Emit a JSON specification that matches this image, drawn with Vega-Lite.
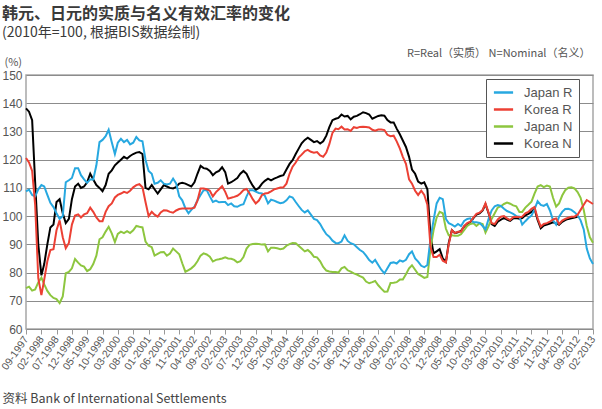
{
"$schema": "https://vega.github.io/schema/vega-lite/v6.json",
"width": 567, "height": 254,
"autosize": {"type": "none"},
"padding": {"left": 26, "top": 75, "right": 9, "bottom": 80},
"background": "white",
"config": {"view": {"stroke": "#a6a6a6", "strokeWidth": 1.5}, "font": "Noto Sans CJK SC"},
"title": {"text": "韩元、日元的实质与名义有效汇率的变化", "subtitle": "(2010年=100, 根据BIS数据绘制)", "anchor": "start", "frame": "group", "dx": -24, "offset": 7, "fontSize": 16, "fontWeight": "bold", "color": "#3a3a3a", "font": "Noto Sans CJK SC", "subtitleFont": "Noto Sans CJK SC", "subtitleFontSize": 14, "subtitleColor": "#3a3a3a", "subtitlePadding": 4},
"layer": [
{
"data": {"values": [
{"date":"1997-09","Japan R":108.8,"Korea R":120.6,"Japan N":74.5,"Korea N":138.2},
{"date":"1997-10","Japan R":109.4,"Korea R":119,"Japan N":75,"Korea N":137},
{"date":"1997-11","Japan R":107.5,"Korea R":116,"Japan N":73.6,"Korea N":134},
{"date":"1997-12","Japan R":107,"Korea R":104,"Japan N":74,"Korea N":112},
{"date":"1998-01","Japan R":109.5,"Korea R":78,"Japan N":76.5,"Korea N":90},
{"date":"1998-02","Japan R":111,"Korea R":72,"Japan N":78.2,"Korea N":79},
{"date":"1998-03","Japan R":110.5,"Korea R":77.5,"Japan N":75.8,"Korea N":83},
{"date":"1998-04","Japan R":107.5,"Korea R":84,"Japan N":73.5,"Korea N":90},
{"date":"1998-05","Japan R":104.7,"Korea R":88,"Japan N":72,"Korea N":96},
{"date":"1998-06","Japan R":103.2,"Korea R":88.3,"Japan N":71,"Korea N":97},
{"date":"1998-07","Japan R":101,"Korea R":95,"Japan N":70.6,"Korea N":105},
{"date":"1998-08","Japan R":99,"Korea R":98.5,"Japan N":69.2,"Korea N":106},
{"date":"1998-09","Japan R":100,"Korea R":92.5,"Japan N":71.5,"Korea N":101},
{"date":"1998-10","Japan R":112,"Korea R":88.6,"Japan N":79.8,"Korea N":97.5},
{"date":"1998-11","Japan R":112.7,"Korea R":90.5,"Japan N":80.2,"Korea N":99},
{"date":"1998-12","Japan R":113.5,"Korea R":97,"Japan N":81.5,"Korea N":106},
{"date":"1999-01","Japan R":117,"Korea R":100.2,"Japan N":84.8,"Korea N":110.5},
{"date":"1999-02","Japan R":117,"Korea R":100.6,"Japan N":83.5,"Korea N":111.5},
{"date":"1999-03","Japan R":114.5,"Korea R":99.5,"Japan N":82.5,"Korea N":110},
{"date":"1999-04","Japan R":113,"Korea R":100.6,"Japan N":82.1,"Korea N":110.5},
{"date":"1999-05","Japan R":111.8,"Korea R":101,"Japan N":80.5,"Korea N":112},
{"date":"1999-06","Japan R":113,"Korea R":103,"Japan N":81.2,"Korea N":115},
{"date":"1999-07","Japan R":113,"Korea R":101.5,"Japan N":83,"Korea N":113},
{"date":"1999-08","Japan R":118,"Korea R":99.5,"Japan N":86,"Korea N":111},
{"date":"1999-09","Japan R":126.2,"Korea R":98.2,"Japan N":91.8,"Korea N":110},
{"date":"1999-10","Japan R":127,"Korea R":98.2,"Japan N":92.5,"Korea N":108.8},
{"date":"1999-11","Japan R":128.3,"Korea R":101.5,"Japan N":94.5,"Korea N":111},
{"date":"1999-12","Japan R":130.6,"Korea R":103.5,"Japan N":96.2,"Korea N":115},
{"date":"2000-01","Japan R":126.2,"Korea R":104.5,"Japan N":93.9,"Korea N":116.2},
{"date":"2000-02","Japan R":122,"Korea R":106.6,"Japan N":90.8,"Korea N":118},
{"date":"2000-03","Japan R":126,"Korea R":107.5,"Japan N":93.7,"Korea N":119},
{"date":"2000-04","Japan R":127.4,"Korea R":108,"Japan N":94.5,"Korea N":120},
{"date":"2000-05","Japan R":126.2,"Korea R":108.6,"Japan N":94,"Korea N":121},
{"date":"2000-06","Japan R":127,"Korea R":108.2,"Japan N":94.7,"Korea N":120.4},
{"date":"2000-07","Japan R":125.4,"Korea R":109,"Japan N":94,"Korea N":121.3},
{"date":"2000-08","Japan R":126,"Korea R":110.2,"Japan N":95,"Korea N":122},
{"date":"2000-09","Japan R":128,"Korea R":111,"Japan N":96.5,"Korea N":122.5},
{"date":"2000-10","Japan R":126.8,"Korea R":111.3,"Japan N":96.2,"Korea N":122.7},
{"date":"2000-11","Japan R":126.5,"Korea R":110.2,"Japan N":96,"Korea N":122},
{"date":"2000-12","Japan R":120,"Korea R":105,"Japan N":91,"Korea N":110},
{"date":"2001-01","Japan R":116,"Korea R":100,"Japan N":89.5,"Korea N":109.5},
{"date":"2001-02","Japan R":115,"Korea R":101.5,"Japan N":89,"Korea N":111},
{"date":"2001-03","Japan R":111.5,"Korea R":100.5,"Japan N":86,"Korea N":109.5},
{"date":"2001-04","Japan R":111.8,"Korea R":99.8,"Japan N":86.6,"Korea N":108},
{"date":"2001-05","Japan R":112.7,"Korea R":101.3,"Japan N":87.2,"Korea N":109.5},
{"date":"2001-06","Japan R":111.5,"Korea R":102.1,"Japan N":87.3,"Korea N":111},
{"date":"2001-07","Japan R":111.2,"Korea R":102,"Japan N":86,"Korea N":110.5},
{"date":"2001-08","Japan R":111.5,"Korea R":101.5,"Japan N":86.7,"Korea N":110},
{"date":"2001-09","Japan R":113.3,"Korea R":101.2,"Japan N":88.5,"Korea N":109.8},
{"date":"2001-10","Japan R":111.6,"Korea R":102,"Japan N":87.5,"Korea N":110.3},
{"date":"2001-11","Japan R":107,"Korea R":102.5,"Japan N":86.5,"Korea N":111.5},
{"date":"2001-12","Japan R":105.6,"Korea R":102.7,"Japan N":83.3,"Korea N":111.8},
{"date":"2002-01","Japan R":102.8,"Korea R":102.7,"Japan N":80.3,"Korea N":111.5},
{"date":"2002-02","Japan R":101,"Korea R":102.7,"Japan N":80.9,"Korea N":111},
{"date":"2002-03","Japan R":102.2,"Korea R":102.7,"Japan N":81.5,"Korea N":110.5},
{"date":"2002-04","Japan R":103.3,"Korea R":103,"Japan N":82.5,"Korea N":112},
{"date":"2002-05","Japan R":105.6,"Korea R":105.5,"Japan N":84,"Korea N":115},
{"date":"2002-06","Japan R":107.5,"Korea R":109.8,"Japan N":86,"Korea N":117.8},
{"date":"2002-07","Japan R":109.2,"Korea R":109.8,"Japan N":86.8,"Korea N":117},
{"date":"2002-08","Japan R":109.2,"Korea R":109.5,"Japan N":86.4,"Korea N":116.8},
{"date":"2002-09","Japan R":107,"Korea R":109,"Japan N":85.6,"Korea N":116},
{"date":"2002-10","Japan R":105,"Korea R":107,"Japan N":83.9,"Korea N":114.5},
{"date":"2002-11","Japan R":105.5,"Korea R":108.5,"Japan N":84.5,"Korea N":115.5},
{"date":"2002-12","Japan R":104.9,"Korea R":109.5,"Japan N":84.7,"Korea N":116},
{"date":"2003-01","Japan R":105,"Korea R":110.6,"Japan N":85,"Korea N":117.3},
{"date":"2003-02","Japan R":105,"Korea R":108.6,"Japan N":85.4,"Korea N":115.6},
{"date":"2003-03","Japan R":103.9,"Korea R":106.2,"Japan N":85,"Korea N":111.5},
{"date":"2003-04","Japan R":104.5,"Korea R":106.5,"Japan N":84.9,"Korea N":112},
{"date":"2003-05","Japan R":103.5,"Korea R":106.8,"Japan N":84.5,"Korea N":112.7},
{"date":"2003-06","Japan R":103.3,"Korea R":107.2,"Japan N":83.6,"Korea N":113.5},
{"date":"2003-07","Japan R":103.9,"Korea R":108,"Japan N":84,"Korea N":115},
{"date":"2003-08","Japan R":104.2,"Korea R":109.2,"Japan N":85.5,"Korea N":116},
{"date":"2003-09","Japan R":107,"Korea R":109.6,"Japan N":88.5,"Korea N":115},
{"date":"2003-10","Japan R":109.2,"Korea R":108,"Japan N":89.8,"Korea N":112.7},
{"date":"2003-11","Japan R":109.2,"Korea R":106,"Japan N":90.1,"Korea N":110.8},
{"date":"2003-12","Japan R":108.7,"Korea R":104.5,"Japan N":90.2,"Korea N":109.3},
{"date":"2004-01","Japan R":108.2,"Korea R":105.5,"Japan N":90.1,"Korea N":110},
{"date":"2004-02","Japan R":108,"Korea R":107.5,"Japan N":89.9,"Korea N":111.5},
{"date":"2004-03","Japan R":107.2,"Korea R":108,"Japan N":90,"Korea N":112.5},
{"date":"2004-04","Japan R":104.5,"Korea R":108.2,"Japan N":87.5,"Korea N":113.3},
{"date":"2004-05","Japan R":105.8,"Korea R":108.8,"Japan N":88.8,"Korea N":112.7},
{"date":"2004-06","Japan R":105.5,"Korea R":109.5,"Japan N":88.8,"Korea N":113.3},
{"date":"2004-07","Japan R":105,"Korea R":109.8,"Japan N":88.6,"Korea N":113.7},
{"date":"2004-08","Japan R":104.6,"Korea R":110.1,"Japan N":88.3,"Korea N":114.2},
{"date":"2004-09","Japan R":104.8,"Korea R":110.2,"Japan N":88.5,"Korea N":114.5},
{"date":"2004-10","Japan R":105.6,"Korea R":111.5,"Japan N":89.5,"Korea N":116.5},
{"date":"2004-11","Japan R":107,"Korea R":115,"Japan N":90.1,"Korea N":118.5},
{"date":"2004-12","Japan R":106.6,"Korea R":117.5,"Japan N":90.5,"Korea N":119.8},
{"date":"2005-01","Japan R":105,"Korea R":119,"Japan N":90.4,"Korea N":122},
{"date":"2005-02","Japan R":103.5,"Korea R":120.8,"Japan N":89.4,"Korea N":124},
{"date":"2005-03","Japan R":102.2,"Korea R":121.8,"Japan N":88.5,"Korea N":125.8},
{"date":"2005-04","Japan R":101.3,"Korea R":123,"Japan N":87.5,"Korea N":127},
{"date":"2005-05","Japan R":102,"Korea R":123.5,"Japan N":88,"Korea N":127.8},
{"date":"2005-06","Japan R":100.5,"Korea R":122.8,"Japan N":87,"Korea N":127},
{"date":"2005-07","Japan R":99,"Korea R":122.5,"Japan N":85.6,"Korea N":126.2},
{"date":"2005-08","Japan R":98.6,"Korea R":122.7,"Japan N":85.4,"Korea N":126.6},
{"date":"2005-09","Japan R":97.2,"Korea R":121.5,"Japan N":84,"Korea N":125.7},
{"date":"2005-10","Japan R":95.3,"Korea R":121,"Japan N":82,"Korea N":126.5},
{"date":"2005-11","Japan R":93.6,"Korea R":122.5,"Japan N":80.7,"Korea N":128.5},
{"date":"2005-12","Japan R":92.7,"Korea R":125.5,"Japan N":80.4,"Korea N":131.5},
{"date":"2006-01","Japan R":91.3,"Korea R":129.5,"Japan N":80.2,"Korea N":134},
{"date":"2006-02","Japan R":90.5,"Korea R":131,"Japan N":80.2,"Korea N":134.5},
{"date":"2006-03","Japan R":90.4,"Korea R":130.8,"Japan N":80,"Korea N":134.8},
{"date":"2006-04","Japan R":91,"Korea R":131.7,"Japan N":81.5,"Korea N":136},
{"date":"2006-05","Japan R":93.2,"Korea R":130.7,"Japan N":82,"Korea N":135.3},
{"date":"2006-06","Japan R":91.2,"Korea R":130.8,"Japan N":80.8,"Korea N":135.5},
{"date":"2006-07","Japan R":90.4,"Korea R":130.2,"Japan N":80.3,"Korea N":134.3},
{"date":"2006-08","Japan R":90,"Korea R":131.5,"Japan N":79.7,"Korea N":135.2},
{"date":"2006-09","Japan R":89,"Korea R":131.2,"Japan N":79.3,"Korea N":135.5},
{"date":"2006-10","Japan R":88,"Korea R":131.6,"Japan N":78.7,"Korea N":136.1},
{"date":"2006-11","Japan R":87.3,"Korea R":131.7,"Japan N":78.2,"Korea N":136.8},
{"date":"2006-12","Japan R":86,"Korea R":131.6,"Japan N":76.8,"Korea N":136.5},
{"date":"2007-01","Japan R":84.4,"Korea R":131.4,"Japan N":76.2,"Korea N":136},
{"date":"2007-02","Japan R":83.5,"Korea R":130.6,"Japan N":76.6,"Korea N":134.5},
{"date":"2007-03","Japan R":84.5,"Korea R":130.3,"Japan N":77,"Korea N":135},
{"date":"2007-04","Japan R":82.7,"Korea R":130.7,"Japan N":75.5,"Korea N":135.5},
{"date":"2007-05","Japan R":81,"Korea R":130.7,"Japan N":74.3,"Korea N":135.7},
{"date":"2007-06","Japan R":79.7,"Korea R":130.5,"Japan N":73.2,"Korea N":135.6},
{"date":"2007-07","Japan R":81.5,"Korea R":128.8,"Japan N":73.3,"Korea N":134},
{"date":"2007-08","Japan R":83.4,"Korea R":128.3,"Japan N":76.3,"Korea N":133.2},
{"date":"2007-09","Japan R":83.6,"Korea R":128.5,"Japan N":76.4,"Korea N":133.2},
{"date":"2007-10","Japan R":83.2,"Korea R":126.5,"Japan N":76.6,"Korea N":131},
{"date":"2007-11","Japan R":84.3,"Korea R":124,"Japan N":77.5,"Korea N":129},
{"date":"2007-12","Japan R":83.9,"Korea R":121,"Japan N":77.5,"Korea N":126.8},
{"date":"2008-01","Japan R":84.5,"Korea R":118.5,"Japan N":79.4,"Korea N":124.5},
{"date":"2008-02","Japan R":86.5,"Korea R":113,"Japan N":81.5,"Korea N":121},
{"date":"2008-03","Japan R":87.5,"Korea R":111.5,"Japan N":82.6,"Korea N":116.5},
{"date":"2008-04","Japan R":85,"Korea R":109,"Japan N":81,"Korea N":115},
{"date":"2008-05","Japan R":83.9,"Korea R":107.5,"Japan N":79.5,"Korea N":112.2},
{"date":"2008-06","Japan R":82.4,"Korea R":109,"Japan N":78.8,"Korea N":111.5},
{"date":"2008-07","Japan R":81.9,"Korea R":107.5,"Japan N":78.1,"Korea N":112},
{"date":"2008-08","Japan R":82.7,"Korea R":104,"Japan N":78.4,"Korea N":109.5},
{"date":"2008-09","Japan R":92,"Korea R":89,"Japan N":88.5,"Korea N":93},
{"date":"2008-10","Japan R":98.5,"Korea R":85.5,"Japan N":95,"Korea N":86.8},
{"date":"2008-11","Japan R":104.5,"Korea R":85.5,"Japan N":99.5,"Korea N":87.5},
{"date":"2008-12","Japan R":106.5,"Korea R":86.3,"Japan N":101.5,"Korea N":88.3},
{"date":"2009-01","Japan R":106,"Korea R":84.2,"Japan N":101,"Korea N":85},
{"date":"2009-02","Japan R":99,"Korea R":83.6,"Japan N":95.5,"Korea N":83.8},
{"date":"2009-03","Japan R":97.5,"Korea R":90,"Japan N":93.2,"Korea N":90.5},
{"date":"2009-04","Japan R":97,"Korea R":95,"Japan N":93.2,"Korea N":95},
{"date":"2009-05","Japan R":96.3,"Korea R":94,"Japan N":93,"Korea N":94},
{"date":"2009-06","Japan R":97.2,"Korea R":94.5,"Japan N":93,"Korea N":94.3},
{"date":"2009-07","Japan R":96.5,"Korea R":94.5,"Japan N":93.6,"Korea N":94.8},
{"date":"2009-08","Japan R":98.3,"Korea R":96.5,"Japan N":95,"Korea N":96.3},
{"date":"2009-09","Japan R":99,"Korea R":97.5,"Japan N":96.5,"Korea N":97.3},
{"date":"2009-10","Japan R":99.2,"Korea R":98,"Japan N":97.2,"Korea N":97.8},
{"date":"2009-11","Japan R":97.8,"Korea R":99.5,"Japan N":97.5,"Korea N":99.3},
{"date":"2009-12","Japan R":97.8,"Korea R":100.8,"Japan N":96.5,"Korea N":100.5},
{"date":"2010-01","Japan R":97.6,"Korea R":101.2,"Japan N":97.5,"Korea N":101},
{"date":"2010-02","Japan R":96.5,"Korea R":102.2,"Japan N":97.2,"Korea N":102},
{"date":"2010-03","Japan R":95.3,"Korea R":104.5,"Japan N":94.2,"Korea N":104.2},
{"date":"2010-04","Japan R":99,"Korea R":101.2,"Japan N":96.5,"Korea N":101},
{"date":"2010-05","Japan R":102,"Korea R":97.5,"Japan N":99,"Korea N":97.2},
{"date":"2010-06","Japan R":103.5,"Korea R":97.2,"Japan N":101,"Korea N":96.5},
{"date":"2010-07","Japan R":103.9,"Korea R":98.8,"Japan N":103,"Korea N":98},
{"date":"2010-08","Japan R":103.6,"Korea R":99.8,"Japan N":103.5,"Korea N":98.7},
{"date":"2010-09","Japan R":102.6,"Korea R":100,"Japan N":104.3,"Korea N":99.4},
{"date":"2010-10","Japan R":101.8,"Korea R":99.2,"Japan N":104.8,"Korea N":98.8},
{"date":"2010-11","Japan R":101.3,"Korea R":98.6,"Japan N":104.4,"Korea N":98.3},
{"date":"2010-12","Japan R":100.8,"Korea R":99.6,"Japan N":103.8,"Korea N":99.2},
{"date":"2011-01","Japan R":100,"Korea R":99.8,"Japan N":103.5,"Korea N":99.3},
{"date":"2011-02","Japan R":99.8,"Korea R":99.6,"Japan N":101.5,"Korea N":99.1},
{"date":"2011-03","Japan R":97,"Korea R":99.8,"Japan N":101.5,"Korea N":99.3},
{"date":"2011-04","Japan R":98.2,"Korea R":101,"Japan N":103,"Korea N":100.3},
{"date":"2011-05","Japan R":99.3,"Korea R":101.5,"Japan N":104,"Korea N":100.8},
{"date":"2011-06","Japan R":100.2,"Korea R":102.6,"Japan N":105.1,"Korea N":101.5},
{"date":"2011-07","Japan R":102.4,"Korea R":103.2,"Japan N":108,"Korea N":102.6},
{"date":"2011-08","Japan R":105.3,"Korea R":99.2,"Japan N":110.5,"Korea N":98.6},
{"date":"2011-09","Japan R":104,"Korea R":96.3,"Japan N":111,"Korea N":95.7},
{"date":"2011-10","Japan R":103.6,"Korea R":97.2,"Japan N":110.3,"Korea N":96.7},
{"date":"2011-11","Japan R":104.3,"Korea R":97.5,"Japan N":110.8,"Korea N":97},
{"date":"2011-12","Japan R":102,"Korea R":98,"Japan N":110.5,"Korea N":97.4},
{"date":"2012-01","Japan R":98.5,"Korea R":98.8,"Japan N":106.5,"Korea N":97.8},
{"date":"2012-02","Japan R":97,"Korea R":99.2,"Japan N":103.4,"Korea N":97.5},
{"date":"2012-03","Japan R":99.8,"Korea R":97.2,"Japan N":104.5,"Korea N":96.9},
{"date":"2012-04","Japan R":101.5,"Korea R":98.4,"Japan N":107.3,"Korea N":98},
{"date":"2012-05","Japan R":102.5,"Korea R":99,"Japan N":109.2,"Korea N":98.6},
{"date":"2012-06","Japan R":102.6,"Korea R":99.4,"Japan N":110.1,"Korea N":99},
{"date":"2012-07","Japan R":102.2,"Korea R":99.8,"Japan N":110.2,"Korea N":99.2},
{"date":"2012-08","Japan R":101.4,"Korea R":99.8,"Japan N":109.8,"Korea N":99.5},
{"date":"2012-09","Japan R":100.3,"Korea R":100.5,"Japan N":108.5,"Korea N":99.8},
{"date":"2012-10","Japan R":98.5,"Korea R":102.2,"Japan N":106.5,"Korea N":null},
{"date":"2012-11","Japan R":95.3,"Korea R":104,"Japan N":102.2,"Korea N":null},
{"date":"2012-12","Japan R":88.5,"Korea R":105.7,"Japan N":96.5,"Korea N":null},
{"date":"2013-01","Japan R":85,"Korea R":105,"Japan N":92.5,"Korea N":null},
{"date":"2013-02","Japan R":83,"Korea R":104.3,"Japan N":90.6,"Korea N":null}
]},
"transform": [{"fold": ["Korea N", "Japan N", "Japan R", "Korea R"], "as": ["series", "value"]}],
"mark": {"type": "line", "strokeWidth": 2},
"encoding": {
"x": {"field": "date", "type": "temporal",
"scale": {"type": "utc", "nice": false, "domain": [{"year": 1997, "month": 9, "utc": true}, {"year": 2013, "month": 2, "utc": true}]},
"axis": {"values": [{"year":1997,"month":9,"utc":true},{"year":1998,"month":2,"utc":true},{"year":1998,"month":7,"utc":true},{"year":1998,"month":12,"utc":true},{"year":1999,"month":5,"utc":true},{"year":1999,"month":10,"utc":true},{"year":2000,"month":3,"utc":true},{"year":2000,"month":8,"utc":true},{"year":2001,"month":1,"utc":true},{"year":2001,"month":6,"utc":true},{"year":2001,"month":11,"utc":true},{"year":2002,"month":4,"utc":true},{"year":2002,"month":9,"utc":true},{"year":2003,"month":2,"utc":true},{"year":2003,"month":7,"utc":true},{"year":2003,"month":12,"utc":true},{"year":2004,"month":5,"utc":true},{"year":2004,"month":10,"utc":true},{"year":2005,"month":3,"utc":true},{"year":2005,"month":8,"utc":true},{"year":2006,"month":1,"utc":true},{"year":2006,"month":6,"utc":true},{"year":2006,"month":11,"utc":true},{"year":2007,"month":4,"utc":true},{"year":2007,"month":9,"utc":true},{"year":2008,"month":2,"utc":true},{"year":2008,"month":7,"utc":true},{"year":2008,"month":12,"utc":true},{"year":2009,"month":5,"utc":true},{"year":2009,"month":10,"utc":true},{"year":2010,"month":3,"utc":true},{"year":2010,"month":8,"utc":true},{"year":2011,"month":1,"utc":true},{"year":2011,"month":6,"utc":true},{"year":2011,"month":11,"utc":true},{"year":2012,"month":4,"utc":true},{"year":2012,"month":9,"utc":true},{"year":2013,"month":2,"utc":true}],
"format": "%m-%Y", "labelAngle": -55, "labelFontSize": 10.5, "labelColor": "#555555", "labelFont": "Liberation Sans", "labelPadding": 3, "labelOverlap": false, "labelFlush": false,
"tickColor": "#999999", "tickSize": 5, "domain": false, "grid": false,
"title": "资料 Bank of International Settlements", "titleX": -24, "titleY": 69, "titleAlign": "left", "titleAnchor": "start", "titleBaseline": "middle", "titleFontSize": 12.5, "titleFontWeight": "normal", "titleColor": "#444444", "titleFont": "Noto Sans CJK SC"}},
"y": {"field": "value", "type": "quantitative",
"scale": {"domain": [60, 150], "nice": false, "zero": false},
"axis": {"values": [60, 70, 80, 90, 100, 110, 120, 130, 140, 150], "title": "(%)", "titleAngle": 0, "titleX": -22, "titleY": -13, "titleAlign": "left", "titleBaseline": "middle", "titleFontSize": 11, "titleFontWeight": "normal", "titleColor": "#555555", "titleFont": "Noto Sans CJK SC",
"labelFontSize": 12, "labelColor": "#555555", "labelFont": "Liberation Sans", "ticks": false, "labelPadding": 4, "domain": false, "gridColor": "#8c8c8c", "gridWidth": 1}},
"color": {"field": "series", "type": "nominal",
"scale": {"domain": ["Japan R", "Korea R", "Japan N", "Korea N"], "range": ["#27a8e0", "#ec4034", "#8dc63f", "#000000"]},
"legend": {"title": null, "orient": "none", "legendX": 460, "legendY": 4, "symbolType": "M-1.6,0H1.6", "symbolSize": 144, "symbolOffset": 4, "symbolStrokeWidth": 2.5, "labelFontSize": 13, "labelColor": "#555555", "labelFont": "Liberation Sans", "strokeColor": "#555555", "fillColor": "white", "padding": 6, "rowPadding": 2, "labelOffset": 13}}
}
},
{
"data": {"values": [{"date": "1997-09"}]},
"mark": {"type": "rule", "opacity": 0},
"encoding": {
"x": {"field": "date", "type": "temporal",
"axis": {"orient": "top", "labels": false, "ticks": false, "domain": false, "grid": false,
"title": "R=Real（实质） N=Nominal（名义）", "titleX": 564, "titleY": -22, "titleAlign": "right", "titleBaseline": "middle", "titleFontSize": 11, "titleFontWeight": "normal", "titleColor": "#555555", "titleFont": "Noto Sans CJK SC"}}
}
}
],
"resolve": {"axis": {"x": "independent"}}
}
